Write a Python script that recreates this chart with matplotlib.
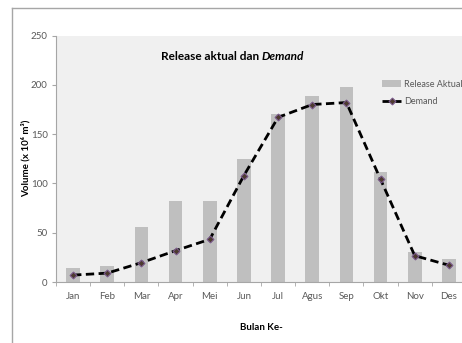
import numpy as np
import matplotlib
matplotlib.use("Agg")
import matplotlib.pyplot as plt
from matplotlib.lines import Line2D

# --- Data ---
bulan = ["Jan", "Feb", "Mar", "Apr", "Mei", "Jun", "Jul", "Agus", "Sep", "Okt", "Nov", "Des"]
release_aktual = [14, 16.5, 55.5, 82.5, 82.5, 125, 170, 189, 198, 112, 30, 23]
demand = [7, 9, 19.6, 31.8, 43.3, 108, 167, 180, 182, 104, 26.7, 17]

plt.rcParams['font.family'] = ['Lato', 'DejaVu Sans']

fig = plt.figure(figsize=(4.62, 3.43), dpi=100)
fig.patch.set_facecolor("white")

# outer chart border (only top and left visible)
fig.add_artist(Line2D([12/462, 12/462], [0, 1 - 8/343], transform=fig.transFigure,
                      color="#a6a6a6", lw=1.0))
fig.add_artist(Line2D([12/462, 1], [1 - 8/343, 1 - 8/343], transform=fig.transFigure,
                      color="#a6a6a6", lw=1.0))

ax = fig.add_axes([56/462, 61/343, 410/462, 246.5/343])
ax.set_facecolor("#f0f0f0")

x = np.arange(len(bulan))
bars = ax.bar(x, release_aktual, width=0.4, color="#bfbfbf", label="Release Aktual", zorder=2)
line, = ax.plot(x, demand, color="black", lw=2, ls=(0, (3, 1.6)), marker="D", ms=3.5,
                mfc="#4d3b2f", mec="#7a5a8c", mew=0.8, label="Demand", zorder=3)

ax.set_xlim(-0.5, len(bulan) - 0.5)
ax.set_ylim(0, 250)
ax.set_yticks(range(0, 251, 50))
ax.set_xticks(x)
ax.set_xticklabels(bulan)
ax.set_xticks(np.arange(-0.5, len(bulan), 1), minor=True)

for s in ["top", "right"]:
    ax.spines[s].set_visible(False)
for s in ["left", "bottom"]:
    ax.spines[s].set_color("#a6a6a6")
    ax.spines[s].set_linewidth(0.8)

ax.tick_params(axis="x", which="major", length=0, pad=7, labelsize=7, labelcolor="#595959")
ax.tick_params(axis="x", which="minor", length=3, color="#a6a6a6", direction="out")
ax.tick_params(axis="y", length=3, color="#a6a6a6", pad=3, labelsize=7, labelcolor="#595959")

ax.set_xlabel("Bulan Ke-", fontsize=7, fontweight="bold", labelpad=16)
ax.set_ylabel("Volume (x 10⁶ m³)", fontsize=7, fontweight="bold", labelpad=0)

fig.text(262/462, 1 - 56/343, "Release aktual dan ", fontsize=8.5,
         fontweight="bold", ha="right", va="center")
fig.text(262/462, 1 - 56/343, "Demand", fontsize=8.5,
         fontweight="bold", fontstyle="italic", ha="left", va="center")

ax.legend([bars, line], ["Release Aktual", "Demand"],
          loc="upper left", bbox_to_anchor=(378/462, 1 - 76/343), bbox_transform=fig.transFigure,
          frameon=False, fontsize=6.5, labelcolor="#595959", handlelength=2.2,
          handletextpad=0.3, labelspacing=0.9, borderaxespad=0)

fig.savefig("out.png", dpi=100, facecolor="white")
